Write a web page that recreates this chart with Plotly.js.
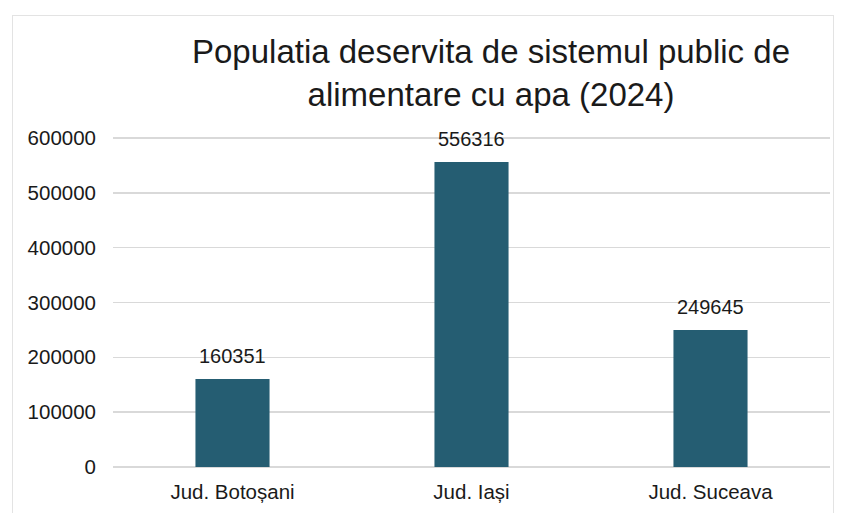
<!DOCTYPE html>
<html><head><meta charset="utf-8">
<script src="https://cdn.plot.ly/plotly-3.0.1.min.js"></script>
<style>
html,body{margin:0;padding:0;background:#fff;overflow:hidden;}
#frame{position:absolute;left:12px;top:15px;width:822px;height:520px;border:1.5px solid #e3e3e3;box-sizing:border-box;}
#chart{position:absolute;left:0;top:0;width:845px;height:513px;}
</style></head>
<body>
<div id="frame"></div>
<div id="chart"></div>
<script>
const categories = ["Jud. Botoșani", "Jud. Iași", "Jud. Suceava"];
const values = [160351, 556316, 249645];
const yTicks = [0, 100000, 200000, 300000, 400000, 500000, 600000];
const titleText = "Populatia deservita de sistemul public de<br>alimentare cu apa (2024)";

const font = "Liberation Sans, Arial, sans-serif";
const trace = {
  type: "bar", x: categories, y: values,
  marker: {color: "#255d72"},
  hoverinfo: "none"
};
const annotations = categories.map((c, i) => ({
  x: c, y: values[i], xref: "x", yref: "y",
  text: String(values[i]), showarrow: false,
  yanchor: "bottom", yshift: 10,
  font: {family: font, size: 20, color: "#1a1a1a"}
}));
const layout = {
  width: 845, height: 513,
  paper_bgcolor: "rgba(0,0,0,0)", plot_bgcolor: "rgba(0,0,0,0)",
  margin: {l: 113, r: 15, t: 137, b: 45},
  bargap: 0.69,
  showlegend: false,
  title: {text: titleText, x: 491/845, xanchor: "center", y: 0.877, yanchor: "top",
          font: {family: font, size: 33, color: "#1a1a1a"}},
  xaxis: {showgrid: false, zeroline: false, showline: false, ticks: "",
          tickfont: {family: font, size: 20.5, color: "#1a1a1a"}, ticklabelstandoff: 9},
  yaxis: {range: [-2000, 602000], tickvals: yTicks, ticktext: yTicks.map(String),
          showgrid: true, gridcolor: "#d9d9d9", gridwidth: 1.5, zeroline: false, showline: false,
          ticks: "", tickfont: {family: font, size: 20.5, color: "#1a1a1a"}, ticklabelstandoff: 16},
  annotations: annotations
};
Plotly.newPlot("chart", [trace], layout, {displayModeBar: false, staticPlot: true});
</script>
</body></html>
